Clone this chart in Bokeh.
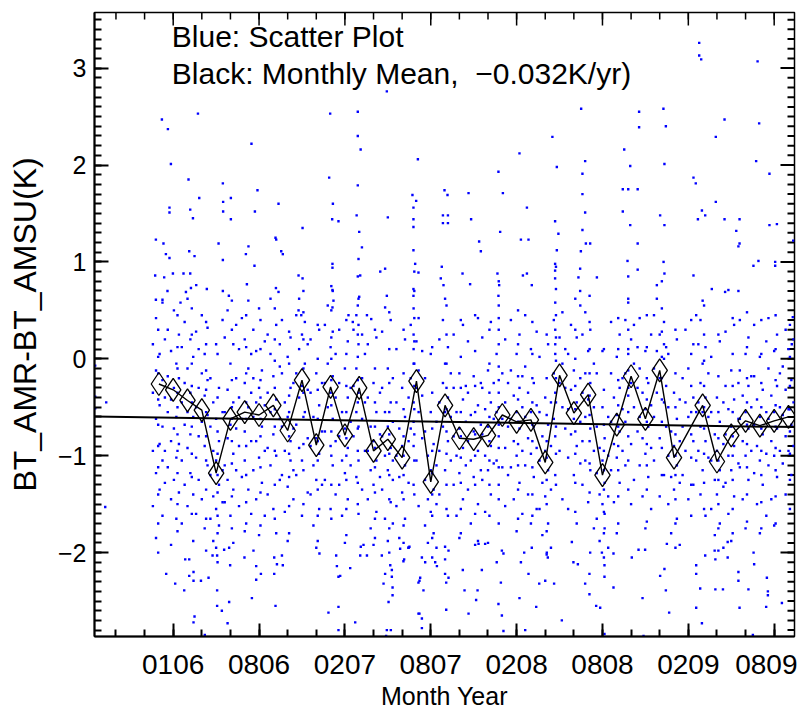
from bokeh.plotting import figure
from bokeh.models import Range1d, FixedTicker, LinearAxis, Label
from bokeh.embed import file_html
from bokeh.resources import INLINE
import numpy as np

# ---------------- data ----------------
x_tick_values = [0, 6, 12, 18, 24, 30, 36, 42]
x_tick_labels = ["0106", "0806", "0207", "0807", "0208", "0808", "0209", "0809"]
y_tick_values = [-2, -1, 0, 1, 2, 3]
y_tick_labels = ["\u22122", "\u22121", "0", "1", "2", "3"]

# monthly means (month index, K); month 36 has no mean
mean_month = [-1, 0, 1, 2, 3, 4, 5, 6, 7, 8, 9, 10, 11, 12, 13, 14, 15, 16, 17, 18,
              19, 20, 21, 22, 23, 24, 25, 26, 27, 28, 29, 30, 31, 32, 33, 34, 35,
              37, 38, 39, 40, 41, 42, 43]
mean_value = [-0.26, -0.32, -0.43, -0.53, -1.18, -0.62, -0.55, -0.58, -0.48, -0.74,
              -0.22, -0.89, -0.29, -0.79, -0.30, -0.95, -0.83, -1.02, -0.23, -1.27,
              -0.48, -0.82, -0.83, -0.79, -0.58, -0.65, -0.63, -1.07, -0.17, -0.56,
              -0.37, -1.20, -0.68, -0.18, -0.62, -0.12, -1.02,
              -0.48, -1.06, -0.79, -0.64, -0.69, -0.64, -0.60]

# linear trend of the monthly means (-0.032 K/yr)
trend_x = [-5.50, 43.42]
trend_y = [-0.595, -0.705]

# scatter: the dense band, month by month (x in months, y in K)
scatter_band = [
    (-1.42,-0.35),(-1.42,-0.95),(-1.42,0.15),(-1.42,-1.52),(-1.20,-0.62),(-1.20,0.42),(-1.20,-1.18),(-1.20,-0.12),(-1.20,-1.85),
    (-0.95,-0.48),(-0.95,-0.88),(-0.95,0.05),(-0.95,-1.35),(-0.75,-0.22),(-0.75,-0.70),(-0.75,0.58),(-0.75,-1.05),(-0.75,-1.62),
    (-0.58,-0.40),(-0.58,0.20),(-0.58,-0.95),(-0.58,-1.28),
    (-0.38,-0.55),(-0.38,0.30),(-0.38,-1.12),(-0.38,-0.18),(-0.15,-0.85),(-0.15,0.08),(-0.15,-1.45),(-0.15,-0.42),(-0.15,-1.92),
    (0.05,-0.30),(0.05,-0.72),(0.05,0.50),(0.05,-1.25),(0.22,-0.60),(0.22,-0.05),(0.22,-1.02),(0.22,-1.65),
    (0.40,-0.20),(0.40,-0.88),(0.40,0.25),(0.40,-1.38),
    (0.60,-0.45),(0.60,0.12),(0.60,-1.05),(0.60,-1.70),(0.80,-0.68),(0.80,-0.25),(0.80,0.38),(0.80,-1.30),
    (1.00,-0.92),(1.00,-0.10),(1.00,-0.55),(1.00,-1.52),(1.00,0.62),(1.20,-0.35),(1.20,-0.78),(1.20,0.20),(1.20,-1.18),
    (1.40,-0.60),(1.40,-1.40),(1.40,0.02),(1.40,-1.88),
    (1.60,-0.50),(1.60,-1.02),(1.60,0.28),(1.60,-1.60),(1.78,-0.30),(1.78,-0.80),(1.78,-1.25),(1.78,0.10),
    (2.00,-0.65),(2.00,-0.15),(2.00,-1.45),(2.00,0.45),(2.20,-0.90),(2.20,-0.38),(2.20,-1.75),(2.20,0.05),
    (2.40,-0.58),(2.40,-1.10),(2.40,0.32),(2.40,-0.22),
    (2.60,-1.20),(2.60,-0.70),(2.60,-1.65),(2.60,-0.20),(2.80,-1.42),(2.80,-0.95),(2.80,-1.88),(2.80,-0.45),
    (3.00,-1.05),(3.00,-1.55),(3.00,-0.62),(3.00,0.15),(3.00,-1.95),(3.20,-1.30),(3.20,-0.85),(3.20,-1.72),(3.20,-0.30),
    (3.45,-1.15),(3.45,-1.48),(3.45,-0.55),(3.45,0.40),
    (3.60,-0.55),(3.60,-1.10),(3.60,0.22),(3.60,-1.48),(3.80,-0.32),(3.80,-0.82),(3.80,-1.25),(3.80,0.50),
    (4.00,-0.68),(4.00,-0.05),(4.00,-1.62),(4.20,-0.45),(4.20,-0.98),(4.20,0.15),(4.20,-1.35),(4.20,-1.90),
    (4.40,-0.72),(4.40,-0.20),(4.40,-1.15),(4.40,0.35),
    (4.60,-0.40),(4.60,-0.90),(4.60,0.10),(4.60,-1.52),(4.80,-0.62),(4.80,-1.22),(4.80,0.42),
    (5.00,-0.25),(5.00,-0.75),(5.00,-1.05),(5.00,-1.78),(5.00,0.20),(5.25,-0.50),(5.25,-1.35),(5.25,-0.10),(5.25,0.60),
    (5.45,-0.85),(5.45,-0.35),(5.45,-1.60),(5.45,0.05),
    (5.60,-0.60),(5.60,-1.15),(5.60,0.30),(5.60,-0.20),(5.80,-0.85),(5.80,-1.45),(5.80,0.08),(5.80,-0.45),
    (6.00,-1.02),(6.00,-0.30),(6.00,0.52),(6.00,-1.82),(6.20,-0.70),(6.20,-1.28),(6.20,-0.12),
    (6.40,-0.48),(6.40,-0.95),(6.40,0.18),(6.40,-1.62),
    (6.60,-0.35),(6.60,-0.92),(6.60,0.25),(6.60,-1.40),(6.80,-0.55),(6.80,0.05),(6.80,-1.10),(6.80,0.62),
    (7.00,-0.78),(7.00,-0.18),(7.00,-1.55),(7.20,-0.42),(7.20,-1.00),(7.20,0.35),(7.20,-1.80),
    (7.45,-0.62),(7.45,-0.08),(7.45,-1.25),(7.45,0.15),
    (7.60,-0.70),(7.60,-1.20),(7.60,-0.15),(7.60,0.40),(7.80,-0.95),(7.80,-0.45),(7.80,-1.58),
    (8.00,-0.60),(8.00,-1.32),(8.00,0.02),(8.00,-1.88),(8.20,-0.85),(8.20,-0.30),(8.20,-1.05),(8.20,0.22),
    (8.40,-0.72),(8.40,-1.45),(8.40,-0.25),(8.40,-1.15),
    (8.60,-0.15),(8.60,-0.68),(8.60,0.45),(8.60,-1.20),(8.80,0.10),(8.80,-0.40),(8.80,0.62),(8.80,-0.92),
    (9.00,-0.28),(9.00,0.25),(9.00,-1.05),(9.00,-1.62),(9.20,-0.05),(9.20,-0.55),(9.20,0.38),
    (9.40,-0.32),(9.40,0.15),(9.40,-0.82),(9.40,-1.38),
    (9.60,-0.90),(9.60,-1.40),(9.60,-0.35),(9.60,0.20),(9.80,-1.10),(9.80,-0.60),(9.80,-1.72),
    (10.00,-0.82),(10.00,-1.25),(10.00,-0.15),(10.00,-1.95),(10.20,-0.98),(10.20,-0.48),(10.20,-1.55),(10.20,0.30),
    (10.40,-0.75),(10.40,-1.30),(10.40,-0.25),
    (10.60,-0.25),(10.60,-0.75),(10.60,0.35),(10.60,-1.25),(10.80,-0.05),(10.80,-0.50),(10.80,0.55),
    (11.00,-0.35),(11.00,0.12),(11.00,-0.90),(11.00,-1.55),(11.15,-0.18),(11.15,0.28),(11.15,-0.62),(11.15,-1.10),(11.15,0.70),
    (11.35,-0.40),(11.35,0.05),(11.35,-0.85),(11.35,-1.40),
    (11.60,-0.80),(11.60,-1.30),(11.60,-0.25),(11.60,0.30),(11.80,-1.05),(11.80,-0.55),(11.80,-1.62),
    (12.00,-0.72),(12.00,-1.18),(12.00,-0.10),(12.00,-1.90),(12.20,-0.92),(12.20,-0.40),(12.20,-1.45),(12.20,0.18),
    (12.40,-0.65),(12.40,-1.10),(12.40,-0.30),
    (12.60,-0.28),(12.60,-0.80),(12.60,0.30),(12.80,-0.10),(12.80,-0.55),(12.80,0.45),(12.80,-1.22),
    (12.95,-0.35),(12.95,0.15),(12.95,-0.70),(12.95,0.62),(12.95,-1.05),(12.95,-1.60),(12.95,0.35),
    (13.20,-0.20),(13.20,-0.62),(13.20,0.25),(13.20,-1.35),(13.40,-0.45),(13.40,0.05),(13.40,-0.95),
    (13.60,-0.95),(13.60,-1.45),(13.60,-0.40),(13.60,0.15),(13.80,-1.15),(13.80,-0.70),(13.80,-1.75),
    (14.00,-0.85),(14.00,-1.30),(14.00,-0.25),(14.00,-1.92),(14.20,-1.05),(14.20,-0.55),(14.20,-1.58),(14.20,0.22),
    (14.45,-0.78),(14.45,-1.22),(14.45,-0.35),
    (14.60,-0.80),(14.60,-1.35),(14.60,-0.30),(14.60,0.28),(14.80,-1.00),(14.80,-0.55),(14.80,-1.65),
    (15.00,-0.70),(15.00,-1.15),(15.00,-0.10),(15.00,-1.88),(15.20,-0.92),(15.20,-0.45),(15.20,-1.48),(15.20,0.40),
    (15.35,-0.65),(15.35,-1.25),(15.35,-0.20),(15.35,-1.05),(15.35,-1.70),
    (15.60,-1.00),(15.60,-1.52),(15.60,-0.45),(15.60,0.10),(15.80,-1.22),(15.80,-0.72),(15.80,-1.85),
    (16.00,-0.90),(16.00,-1.38),(16.00,-0.30),(16.20,-1.10),(16.20,-0.60),(16.20,-1.65),(16.20,0.20),
    (16.45,-0.85),(16.45,-1.28),(16.45,-0.40),(16.45,-1.95),
    (16.60,-0.20),(16.60,-0.72),(16.60,0.35),(16.80,-0.05),(16.80,-0.45),(16.80,0.25),(16.80,0.52),(16.80,-0.90),
    (16.80,-1.30),(16.80,0.10),(16.80,-0.65),(17.00,-0.30),(17.00,0.18),(17.00,-1.05),
    (17.15,-0.12),(17.15,-0.55),(17.15,0.42),(17.15,-1.52),(17.40,-0.38),(17.40,0.08),(17.40,-0.82),
    (17.60,-1.25),(17.60,-1.72),(17.60,-0.75),(17.60,-0.20),(17.80,-1.45),(17.80,-1.00),(17.80,-1.90),
    (18.00,-1.15),(18.00,-1.58),(18.00,-0.55),(18.00,0.05),(18.20,-1.35),(18.20,-0.88),(18.20,-1.80),
    (18.40,-1.10),(18.40,-1.50),(18.40,-0.65),(18.40,-1.95),
    (18.60,-0.45),(18.60,-0.95),(18.60,0.20),(18.60,-1.40),(18.85,-0.25),(18.85,-0.70),(18.85,0.40),
    (19.00,-0.55),(19.00,-0.05),(19.00,-1.15),(19.00,0.62),(19.20,-0.40),(19.20,-0.85),(19.20,0.12),(19.20,-1.62),
    (19.40,-0.60),(19.40,-0.15),(19.40,-1.05),
    (19.60,-0.80),(19.60,-1.30),(19.60,-0.30),(19.60,0.25),(19.80,-1.00),(19.80,-0.55),(19.80,-1.62),
    (20.00,-0.72),(20.00,-1.18),(20.00,-0.15),(20.00,-1.85),(20.25,-0.92),(20.25,-0.42),(20.25,-1.45),(20.25,0.35),
    (20.45,-0.65),(20.45,-1.10),(20.45,-0.28),
    (20.60,-0.85),(20.60,-1.35),(20.60,-0.35),(20.60,0.18),(20.80,-1.05),(20.80,-0.58),(20.80,-1.70),
    (21.00,-0.75),(21.00,-1.22),(21.00,-0.18),(21.30,-0.95),(21.30,-0.48),(21.30,-1.50),(21.30,0.42),(21.30,-1.88),
    (21.50,-0.68),(21.50,-1.15),(21.50,-0.25),
    (21.60,-0.78),(21.60,-1.25),(21.60,-0.30),(21.60,0.22),(21.80,-1.00),(21.80,-0.52),(21.80,-1.58),
    (22.00,-0.70),(22.00,-1.15),(22.00,-0.12),(22.00,-1.90),(22.20,-0.90),(22.20,-0.45),(22.20,-1.40),(22.20,0.38),
    (22.40,-0.62),(22.40,-1.08),(22.40,-0.25),
    (22.60,-0.55),(22.60,-1.05),(22.60,0.05),(22.75,-0.35),(22.75,-0.80),(22.75,0.30),(22.75,-1.30),(22.75,-1.70),(22.75,0.55),
    (23.00,-0.62),(23.00,-0.15),(23.00,-1.12),(23.20,-0.45),(23.20,-0.92),(23.20,0.20),(23.20,-1.52),
    (23.40,-0.70),(23.40,-0.25),(23.40,-1.20),
    (23.60,-0.62),(23.60,-1.12),(23.60,-0.12),(23.60,0.40),(23.80,-0.85),(23.80,-0.38),(23.80,-1.45),
    (24.00,-0.55),(24.00,-1.00),(24.00,0.05),(24.00,-1.78),(24.20,-0.72),(24.20,-0.30),(24.20,-1.28),(24.20,0.25),
    (24.40,-0.50),(24.40,-0.95),(24.40,-0.18),(24.40,-1.60),
    (24.60,-0.60),(24.60,-1.10),(24.60,-0.08),(24.60,0.45),(24.80,-0.82),(24.80,-0.35),(24.80,-1.40),
    (25.00,-0.55),(25.00,-0.98),(25.00,0.10),(25.00,-1.70),(25.20,-0.70),(25.20,-0.25),(25.20,-1.22),
    (25.40,-0.48),(25.40,-0.92),(25.40,0.28),(25.40,-1.55),
    (25.60,-1.05),(25.60,-1.55),(25.60,-0.55),(25.60,0.02),(25.80,-1.28),(25.80,-0.80),(25.80,-1.82),
    (26.00,-0.95),(26.00,-1.42),(26.00,-0.40),(26.20,-1.15),(26.20,-0.68),(26.20,-1.70),(26.20,0.15),
    (26.40,-0.90),(26.40,-1.35),(26.40,-0.45),(26.40,-1.95),
    (26.60,-0.15),(26.60,-0.62),(26.60,0.40),(26.70,0.05),(26.70,-0.35),(26.70,0.30),(26.70,0.58),(26.70,-0.80),
    (26.70,-1.20),(26.70,0.15),(27.00,-0.25),(27.00,0.22),(27.00,-0.95),
    (27.20,-0.05),(27.20,-0.50),(27.20,0.48),(27.20,-1.45),(27.40,-0.30),(27.40,0.10),(27.40,-0.72),
    (27.60,-0.52),(27.60,-1.02),(27.60,0.05),(27.60,-1.55),(27.80,-0.32),(27.80,-0.78),(27.80,0.35),
    (28.00,-0.62),(28.00,-0.12),(28.00,-1.20),(28.20,-0.45),(28.20,-0.90),(28.20,0.22),(28.20,-1.70),
    (28.45,-0.65),(28.45,-0.20),(28.45,-1.08),(28.45,0.55),
    (28.60,-0.35),(28.60,-0.85),(28.60,0.25),(28.60,-1.30),(28.80,-0.15),(28.80,-0.60),(28.80,0.48),(28.80,-1.05),
    (29.00,-0.42),(29.00,0.08),(29.00,-1.48),(29.15,-0.25),(29.15,-0.72),(29.15,0.30),(29.15,-1.15),
    (29.40,-0.50),(29.40,-0.05),(29.40,-0.95),(29.40,-1.75),
    (29.60,-1.18),(29.60,-1.65),(29.60,-0.70),(29.60,-0.15),(29.80,-1.40),(29.80,-0.92),(29.80,-1.88),
    (30.00,-1.05),(30.00,-1.50),(30.00,-0.50),(30.00,0.08),(30.15,-1.28),(30.15,-0.82),(30.15,-1.75),(30.15,-1.60),
    (30.40,-1.00),(30.40,-1.42),(30.40,-0.60),(30.40,-1.95),
    (30.60,-0.65),(30.60,-1.15),(30.60,-0.15),(30.60,0.38),(30.80,-0.88),(30.80,-0.40),(30.80,-1.48),
    (31.00,-0.58),(31.00,-1.02),(31.00,0.02),(31.00,-1.80),(31.20,-0.75),(31.20,-0.30),(31.20,-1.28),(31.20,0.25),
    (31.40,-0.52),(31.40,-0.95),(31.40,-0.20),
    (31.60,-0.15),(31.60,-0.65),(31.60,0.40),(31.60,-1.10),(31.80,0.05),(31.80,-0.38),(31.80,0.58),
    (32.00,-0.25),(32.00,0.20),(32.00,-0.88),(32.00,-1.50),(32.20,-0.05),(32.20,-0.50),(32.20,0.35),(32.20,-1.25),
    (32.45,-0.30),(32.45,0.12),(32.45,-0.75),
    (32.60,-0.60),(32.60,-1.10),(32.60,-0.10),(32.60,0.42),(32.80,-0.82),(32.80,-0.35),(32.80,-1.42),
    (33.00,-0.52),(33.00,-0.98),(33.00,0.08),(33.00,-1.75),(33.20,-0.70),(33.20,-0.25),(33.20,-1.22),
    (33.40,-0.48),(33.40,-0.92),(33.40,0.25),(33.40,-1.55),
    (33.60,-0.10),(33.60,-0.60),(33.60,0.45),(33.60,-1.05),(33.80,0.08),(33.80,-0.35),(33.80,0.62),
    (34.00,-0.20),(34.00,0.25),(34.00,-0.82),(34.00,-1.42),(34.30,0.00),(34.30,-0.45),(34.30,0.38),(34.30,-1.20),(34.30,0.15),
    (34.45,-0.28),(34.45,0.12),(34.45,-0.70),
    (34.60,-1.00),(34.60,-1.50),(34.60,-0.50),(34.60,0.05),(34.80,-1.22),(34.80,-0.75),(34.80,-1.80),
    (35.00,-0.90),(35.00,-1.35),(35.00,-0.35),(35.20,-1.10),(35.20,-0.62),(35.20,-1.65),(35.20,0.20),
    (35.40,-0.85),(35.40,-1.28),(35.40,-0.42),(35.40,-1.92),
    (35.60,-0.70),(35.60,-1.20),(35.60,-0.20),(35.80,-0.95),(35.80,-0.45),(35.80,0.30),
    (36.00,-0.60),(36.00,-1.45),(36.00,-0.10),(36.35,-0.40),(36.35,-0.85),(36.35,0.15),(36.35,-1.30),
    (36.55,-0.55),(36.55,-1.05),(36.55,0.45),
    (36.70,-0.45),(36.70,-0.95),(36.70,0.15),(36.85,-0.25),(36.85,-0.70),(36.85,0.40),(36.85,-1.40),
    (37.00,-0.55),(37.00,-0.05),(37.00,-1.15),(37.00,0.60),(37.20,-0.40),(37.20,-0.85),(37.20,0.12),(37.20,-1.62),
    (37.40,-0.60),(37.40,-0.15),(37.40,-1.02),
    (37.60,-1.05),(37.60,-1.55),(37.60,-0.55),(37.60,0.02),(37.85,-1.25),(37.85,-0.78),(37.85,-1.82),
    (38.00,-0.95),(38.00,-1.40),(38.00,-0.40),(38.20,-1.15),(38.20,-0.65),(38.20,-1.70),(38.20,0.18),
    (38.45,-0.88),(38.45,-1.32),(38.45,-0.45),(38.45,-1.95),
    (38.60,-0.78),(38.60,-1.28),(38.60,-0.28),(38.60,0.28),(38.80,-1.00),(38.80,-0.52),(38.80,-1.60),
    (39.00,-0.70),(39.00,-1.15),(39.00,-0.12),(39.00,-1.88),(39.20,-0.90),(39.20,-0.42),(39.20,-1.42),(39.20,0.35),
    (39.50,-0.62),(39.50,-1.08),(39.50,-0.25),
    (39.60,-0.62),(39.60,-1.12),(39.60,-0.12),(39.60,0.40),(39.80,-0.85),(39.80,-0.38),(39.80,-1.45),
    (40.00,-0.55),(40.00,-1.00),(40.00,0.05),(40.00,-1.75),(40.20,-0.72),(40.20,-0.28),(40.20,-1.25),(40.20,0.22),
    (40.40,-0.50),(40.40,-0.95),(40.40,-0.18),
    (40.60,-0.68),(40.60,-1.18),(40.60,-0.18),(40.60,0.35),(40.80,-0.90),(40.80,-0.42),(40.80,-1.50),
    (41.00,-0.60),(41.00,-1.05),(41.00,0.02),(41.00,-1.80),(41.20,-0.78),(41.20,-0.32),(41.20,-1.30),
    (41.45,-0.55),(41.45,-0.98),(41.45,0.18),(41.45,-1.62),
    (41.60,-0.62),(41.60,-1.10),(41.60,-0.10),(41.60,0.42),(41.80,-0.85),(41.80,-0.38),(41.80,-1.45),
    (42.00,-0.55),(42.00,-1.00),(42.00,0.08),(42.00,-1.72),(42.20,-0.72),(42.20,-0.28),(42.20,-1.22),(42.20,0.25),
    (42.40,-0.50),(42.40,-0.95),(42.40,-0.15),
    (42.60,-0.58),(42.60,-1.08),(42.60,-0.08),(42.80,-0.80),(42.80,-0.32),(42.80,-1.40),(42.80,0.30),
    (43.00,-0.52),(43.00,-0.95),(43.00,0.10),(43.20,-0.68),(43.20,-0.22),(43.20,-1.20),
    (43.35,-0.45),(43.35,-0.90),(43.35,0.20),
]

# scatter: dense vertical stripes (one observation day per month), x -> list of y
scatter_stripes = {
    -1.05: [0.30,0.02,-0.15,-0.42,-0.68,-0.90,-1.12,-1.40,-1.70,-2.00],
    0.30: [0.45,0.12,-0.10,-0.35,-0.50,-0.78,-0.95,-1.18,-1.50,-1.78],
    1.30: [0.52,0.25,-0.05,-0.28,-0.45,-0.70,-0.98,-1.22,-1.60],
    2.30: [0.38,0.15,-0.12,-0.32,-0.55,-0.80,-1.05,-1.35,-1.65,-1.98],
    3.10: [0.05,-0.40,-0.75,-0.98,-1.20,-1.38,-1.62,-1.80,-2.10],
    4.10: [0.60,0.30,-0.22,-0.50,-0.62,-0.85,-1.08,-1.42,-1.75],
    5.10: [0.45,0.12,-0.15,-0.45,-0.62,-0.90,-1.20,-1.48,-1.70],
    6.10: [0.40,0.10,-0.22,-0.40,-0.62,-0.80,-1.12,-1.38,-1.72],
    7.10: [0.52,0.20,-0.02,-0.30,-0.52,-0.70,-0.95,-1.30,-1.65],
    8.10: [0.28,-0.05,-0.38,-0.55,-0.80,-0.98,-1.22,-1.52,-1.80],
    9.10: [0.70,0.48,0.20,-0.10,-0.35,-0.60,-0.88,-1.15,-1.50],
    10.10: [0.35,0.00,-0.32,-0.62,-0.85,-1.05,-1.35,-1.62,-1.88],
    11.05: [0.75,0.50,0.22,0.00,-0.22,-0.48,-0.75,-1.00,-1.30,-1.65],
    12.10: [0.40,0.05,-0.28,-0.55,-0.82,-1.00,-1.25,-1.55,-1.82],
    12.90: [0.85,0.55,0.25,0.02,-0.22,-0.45,-0.72,-0.95,-1.28,-1.50],
    14.10: [0.30,-0.10,-0.45,-0.70,-0.92,-1.12,-1.38,-1.65,-1.85],
    15.10: [0.48,0.10,-0.25,-0.55,-0.78,-0.98,-1.20,-1.45,-1.75,-2.00],
    16.10: [0.30,-0.15,-0.52,-0.80,-1.00,-1.20,-1.45,-1.72,-1.90],
    16.85: [0.90,0.70,0.42,0.18,-0.05,-0.28,-0.52,-0.78,-1.05,-1.40],
    18.10: [0.12,-0.35,-0.72,-0.95,-1.18,-1.40,-1.62,-1.85,-2.05],
    19.10: [0.55,0.25,-0.05,-0.30,-0.52,-0.75,-0.98,-1.30,-1.55],
    20.10: [0.40,0.02,-0.30,-0.55,-0.80,-1.02,-1.28,-1.55,-1.80],
    21.10: [0.45,0.08,-0.28,-0.55,-0.78,-1.00,-1.30,-1.60,-1.92],
    22.10: [0.30,-0.05,-0.35,-0.60,-0.85,-1.05,-1.30,-1.62],
    22.75: [0.80,0.42,0.15,-0.08,-0.22,-0.50,-0.68,-0.92,-1.12,-1.45],
    24.10: [0.50,0.15,-0.18,-0.42,-0.65,-0.88,-1.10,-1.35,-1.65],
    25.10: [0.38,0.05,-0.20,-0.45,-0.68,-0.85,-1.12,-1.40,-1.62],
    26.10: [0.25,-0.20,-0.58,-0.85,-1.02,-1.25,-1.50,-1.78,-2.02],
    26.75: [0.95,0.72,0.45,0.22,-0.02,-0.20,-0.45,-0.70,-0.98,-1.30],
    28.10: [0.62,0.30,0.00,-0.28,-0.52,-0.75,-0.98,-1.28,-1.58],
    29.10: [0.65,0.38,0.10,-0.15,-0.38,-0.58,-0.85,-1.08,-1.38],
    30.10: [0.10,-0.32,-0.68,-0.95,-1.15,-1.35,-1.58,-1.80,-2.05],
    31.10: [0.42,0.10,-0.22,-0.48,-0.70,-0.90,-1.15,-1.42,-1.70],
    31.80: [0.85,0.62,0.30,0.10,-0.12,-0.30,-0.55,-0.80,-1.05,-1.35],
    33.10: [0.45,0.12,-0.20,-0.42,-0.65,-0.88,-1.10,-1.35,-1.68],
    34.15: [0.80,0.52,0.28,0.02,-0.20,-0.42,-0.65,-0.92,-1.20],
    35.10: [0.30,-0.15,-0.50,-0.78,-1.00,-1.20,-1.45,-1.70,-1.95],
    36.20: [0.40,0.05,-0.28,-0.55,-0.78,-1.02,-1.30,-1.62],
    37.10: [0.55,0.25,-0.02,-0.28,-0.50,-0.72,-0.98,-1.28,-1.55],
    38.10: [0.25,-0.18,-0.55,-0.82,-1.05,-1.25,-1.50,-1.75,-1.98],
    39.10: [0.42,0.05,-0.28,-0.55,-0.80,-1.00,-1.25,-1.55,-1.80],
    40.10: [0.48,0.12,-0.20,-0.45,-0.68,-0.88,-1.12,-1.40,-1.68],
    41.10: [0.40,0.05,-0.25,-0.50,-0.72,-0.95,-1.20,-1.48,-1.75],
    42.10: [0.45,0.10,-0.22,-0.48,-0.70,-0.92,-1.15,-1.42,-1.70],
    43.10: [0.35,0.02,-0.28,-0.52,-0.75,-0.98,-1.25,-1.55],
}

# scatter: upper tail
scatter_high = [
    (-0.79,2.47),(-0.37,2.37),(1.73,2.53),(-0.16,2.01),(1.07,1.85),(3.47,1.81),(5.47,2.22),(10.97,2.53),
    (12.9,2.55),(12.9,2.30),(13.1,2.16),(12.9,1.79),(10.9,1.87),(14.93,2.76),
    (-0.26,1.56),(-0.26,1.51),(1.82,1.66),(1.19,1.54),(1.38,1.45),(3.49,1.62),(3.49,1.52),(4.03,1.66),(4.03,1.44),
    (5.89,1.74),(5.71,1.52),(7.36,1.60),(9.04,1.35),(11.16,1.60),(11.11,1.44),(11.55,1.42),(12.82,1.48),(13.0,1.31),(15.0,1.46),
    (-1.21,1.23),(-0.68,1.19),(-0.51,1.08),(-0.26,1.04),(1.12,1.11),(1.49,1.06),(3.17,1.19),(3.47,1.02),(5.26,1.16),
    (5.08,1.08),(5.68,0.96),(7.15,1.25),(7.2,1.23),(7.55,1.11),(7.66,1.08),(8.76,0.86),(9.04,0.83),(11.13,0.98),
    (11.13,0.94),(13.07,0.86),(13.19,1.15),(12.95,1.03),(14.47,0.90),(14.81,0.93),
    (-1.26,0.86),(-0.63,0.84),(-0.02,0.88),(0.72,0.88),(1.19,0.88),
    (-1.21,0.61),(-0.75,0.61),(-0.40,0.70),(0.51,0.58),(0.89,0.69),(1.24,0.73),(1.61,0.76),(2.35,0.72),(3.47,0.70),(3.89,0.65),
    (5.15,0.77),(7.18,0.73),(7.36,0.69),(8.76,0.50),(8.95,0.45),(11.13,0.71),(11.2,0.60),(11.13,0.53),(13.0,0.64),
    (13.54,0.45),(13.84,0.41),(14.93,0.65),(14.81,0.53),(12.25,0.45),(12.55,0.38),
    (36.76,3.26),(36.76,3.13),(36.9,3.09),(40.84,3.07),(28.51,2.58),(32.56,2.55),(32.56,2.39),(34.26,2.58),(34.43,2.40),
    (38.53,2.47),(37.92,2.29),(40.95,2.43),(26.5,2.29),(24.2,2.12),(31.52,2.16),(31.94,1.99),(34.33,2.01),(40.74,2.04),
    (41.67,1.91),(36.36,1.87),(36.52,1.81),(28.79,2.04),(28.6,1.91),(28.6,1.70),(26.81,1.98),(17.1,2.06),(22.73,1.93),
    (31.42,1.75),(31.8,1.75),(32.46,1.75),(20.64,1.71),(23.04,1.71),(16.72,1.69),(16.98,1.63),(16.79,1.56),(16.79,1.44),
    (16.79,1.36),(18.96,1.74),(19.17,1.69),(24.72,1.56),(28.79,1.51),(28.6,1.33),(31.42,1.52),(31.94,1.38),(34.03,1.48),
    (34.33,1.38),(36.67,1.44),(36.95,1.53),(37.18,1.48),(37.92,1.62),(38.53,1.44),(39.58,1.44),(39.35,1.32),(39.58,1.19),
    (39.5,1.16),(41.67,1.38),(42.19,1.39),(18.85,1.48),(19.2,1.48),(18.85,1.40),(19.2,1.40),(20.82,1.44),(22.85,1.31),
    (21.38,1.21),(21.5,1.11),(24.3,1.23),(24.83,1.23),(26.69,1.42),(26.92,1.29),(28.84,1.19),(29.14,1.19),(28.49,1.11),
    (32.46,1.19),(37.64,0.72),(38.57,0.69),(38.8,0.71),(39.5,0.70),(40.55,0.96),(40.9,1.01),(42.07,1.0),(42.07,0.96),
    (36.36,0.86),(31.75,1.01),(32.46,0.92),(33.8,0.76),(34.27,1.0),(34.33,0.88),(29.61,0.84),(28.44,0.93),(28.32,0.84),
    (28.44,0.70),(26.81,1.12),(26.69,0.98),(26.69,0.91),(26.69,0.83),(25.06,0.76),(24.44,0.86),(24.72,0.88),(22.66,0.88),
    (22.78,0.76),(22.73,0.65),(20.22,0.88),(20.75,0.77),(18.77,0.95),(18.89,0.76),(18.7,0.83),(16.79,1.12),(16.91,0.98),
    (17.14,0.89),(16.79,0.72),(16.79,0.65),
]

# scatter: lower tail
scatter_low = [
    (-0.49,-2.22),(0.14,-2.32),(0.77,-2.39),(0.84,-2.07),(1.12,-2.07),(1.12,-2.24),(1.42,-2.20),(1.42,-2.29),(1.94,-2.29),
    (2.47,-2.26),(1.49,-2.66),(1.42,-2.72),(2.21,-2.85),(3.07,-2.39),(3.07,-2.55),(3.40,-2.60),(3.8,-2.73),(3.91,-2.51),
    (2.75,-2.03),(3.07,-2.03),(3.56,-1.97),(3.91,-1.95),(3.98,-2.13),(4.98,-2.05),(5.5,-2.47),(5.61,-1.98),(5.8,-2.14),
    (5.8,-2.28),(6.13,-2.22),(7.06,-2.22),(7.15,-2.55),(7.25,-2.12),(7.66,-2.13),(7.06,-2.05),(7.6,-2.03),(10.22,-2.01),
    (10.85,-2.62),(11.55,-2.56),(11.44,-2.14),(11.39,-2.03),(11.55,-2.25),(11.67,-2.24),(11.55,-2.80),(12.72,-2.72),
    (12.37,-2.16),(13.07,-2.03),(13.54,-2.03),(13.11,-1.94),(13.3,-1.92),(14.58,-2.03),(14.7,-2.32),(14.81,-2.22),
    (15.05,-2.51),(15.17,-2.13),(15.28,-2.18),(15.28,-2.25),(15.33,-2.36),(15.33,-2.44),(14.93,-2.80),(15.21,-2.80),
    (14.88,-2.86),(15.86,-1.96),(16.51,-1.94),(16.09,-2.09),(17.21,-2.29),(17.21,-2.63),
    (16.14,-2.07),(16.44,-1.95),(17.38,-2.05),(17.61,-2.10),(17.14,-2.31),(17.26,-2.26),(17.49,-2.39),(17.14,-2.63),
    (17.38,-2.68),(17.38,-2.78),(18.31,-2.10),(18.43,-2.14),(19.0,-1.94),(19.24,-1.98),(19.0,-2.07),(19.0,-2.22),
    (19.24,-2.26),(19.08,-2.31),(19.08,-2.59),(20.24,-2.18),(20.36,-2.39),(20.64,-2.63),(21.17,-2.49),(21.27,-2.39),
    (21.34,-1.91),(21.57,-2.18),(21.8,-1.91),(22.61,-2.10),(22.73,-2.53),(22.9,-2.31),(22.97,-2.65),(22.97,-1.98),
    (23.08,-2.01),(23.08,-2.81),(24.2,-2.47),(24.3,-2.10),(24.53,-2.00),(24.83,-2.22),(25.06,-1.95),(25.37,-2.56),
    (24.6,-2.80),(26.11,-2.00),(26.18,-2.05),(25.58,-2.32),(26.0,-2.29),(26.62,-2.32),(27.16,-2.70),(27.86,-1.89),
    (27.97,-2.10),(28.28,-2.12),(28.79,-2.32),(29.09,-2.22),(29.09,-2.43),(29.56,-2.55),(29.84,-2.57),(29.14,-2.00),
    (29.96,-2.00),(30.14,-2.13),(30.14,-2.25),(30.77,-2.01),(30.77,-2.36),(30.14,-2.84),(32.05,-2.05),(32.52,-1.97),
    (32.98,-1.97),(32.8,-2.47),(32.87,-2.86),(34.03,-2.24),(34.33,-2.17),(34.43,-2.39),(34.66,-2.62),(34.5,-1.91),
    (36.55,-2.13),(36.55,-2.22),(36.55,-2.57),(36.83,-2.37),(36.95,-2.73),(37.18,-2.03),(37.84,-1.98),(37.89,-2.07),
    (37.89,-2.38),(38.42,-2.38),(38.75,-2.05),(38.75,-1.89),(39.5,-2.20),(39.5,-2.29),(39.58,-2.57),(40.2,-2.38),
    (40.56,-2.00),(40.6,-2.12),(41.49,-2.26),(41.56,-2.40),(41.56,-2.44),(41.44,-2.56),(42.54,-2.52),(40.51,-2.85),
]

# scatter: isolated points near the frame edges
scatter_edge = [(-5.45,-0.07),(-5.45,-0.39),(-5.45,-0.51),(-4.68,-0.45),(-4.75,-1.53),
                (43.33,1.22),(43.30,0.43),(43.23,0.15)]

# ---------------- figure ----------------
FONT = "Liberation Sans"
X0, X1 = -5.50, 43.42
Y0, Y1 = -2.866, 3.574
FW, FH = 700, 624

p = figure(width=797, height=719, output_backend="svg", toolbar_location=None,
           x_range=Range1d(X0, X1), y_range=Range1d(Y0, Y1),
           x_axis_type=None, y_axis_type=None,
           min_border_left=94, min_border_right=3, min_border_top=12, min_border_bottom=83)
p.outline_line_color = "black"
p.outline_line_width = 1.5
p.background_fill_color = "white"
p.border_fill_color = "white"

x_minor = list(range(-4, 44, 2))
y_minor = [round(v, 1) for v in np.arange(-2.8, 3.55, 0.1)]
xticker = FixedTicker(ticks=x_tick_values, minor_ticks=x_minor)
yticker = FixedTicker(ticks=y_tick_values, minor_ticks=y_minor)


def style_axis(ax, major_in, minor_in, lw=2):
    ax.major_tick_in = major_in
    ax.major_tick_out = 0
    ax.minor_tick_in = minor_in
    ax.minor_tick_out = 0
    ax.axis_line_width = lw
    ax.major_tick_line_width = lw
    ax.minor_tick_line_width = lw
    ax.axis_line_color = "black"
    ax.major_tick_line_color = "black"
    ax.minor_tick_line_color = "black"


xb = LinearAxis(ticker=xticker)
style_axis(xb, 13, 7)
xb.major_label_overrides = dict(zip(x_tick_values, x_tick_labels))
xb.major_label_text_font = FONT
xb.major_label_text_font_size = "28px"
xb.major_label_text_color = "black"
xb.major_label_standoff = 18
xb.axis_label = "Month Year"
xb.axis_label_text_font = FONT
xb.axis_label_text_font_size = "25px"
xb.axis_label_text_font_style = "normal"
xb.axis_label_text_color = "black"
xb.axis_label_standoff = 5
p.add_layout(xb, "below")

yl = LinearAxis(ticker=yticker)
style_axis(yl, 14, 7)
yl.major_label_overrides = dict(zip(y_tick_values, y_tick_labels))
yl.major_label_text_font = FONT
yl.major_label_text_font_size = "25px"
yl.major_label_text_color = "black"
yl.major_label_standoff = 8
yl.axis_label = "BT_AMR-BT_AMSU(K)"
yl.axis_label_text_font = FONT
yl.axis_label_text_font_size = "32px"
yl.axis_label_text_font_style = "normal"
yl.axis_label_text_color = "black"
yl.axis_label_standoff = 12
p.add_layout(yl, "left")

# inward ticks on the top and right edges of the box (lengths in screen px)
px_per_y = FH / (Y1 - Y0)
px_per_x = FW / (X1 - X0)
top_major_len, top_minor_len = 13 / px_per_y, 7 / px_per_y
right_major_len, right_minor_len = 14 / px_per_x, 7 / px_per_x
p.segment(x0=x_tick_values, y0=[Y1] * len(x_tick_values), x1=x_tick_values,
          y1=[Y1 - top_major_len] * len(x_tick_values), line_color="black", line_width=1.5)
p.segment(x0=x_minor, y0=[Y1] * len(x_minor), x1=x_minor,
          y1=[Y1 - top_minor_len] * len(x_minor), line_color="black", line_width=1.5)
p.segment(x0=[X1] * len(y_tick_values), y0=y_tick_values, x1=[X1 - right_major_len] * len(y_tick_values),
          y1=y_tick_values, line_color="black", line_width=2)
p.segment(x0=[X1] * len(y_minor), y0=y_minor, x1=[X1 - right_minor_len] * len(y_minor),
          y1=y_minor, line_color="black", line_width=2)

# scatter
all_pts = scatter_band + scatter_high + scatter_low + scatter_edge
for sxv, ys in scatter_stripes.items():
    all_pts = all_pts + [(sxv, yv) for yv in ys]
sx = [pt[0] for pt in all_pts]
sy = [pt[1] for pt in all_pts]
p.scatter(sx, sy, marker="square", size=2.4, fill_color="#0000ff", line_color=None)

# trend line
p.line(trend_x, trend_y, line_color="black", line_width=2)

# monthly means
p.line(mean_month, mean_value, line_color="black", line_width=1.4)
p.scatter(mean_month, mean_value, marker="diamond", size=23, fill_color=None,
          line_color="black", line_width=1.3)

# annotation text
p.add_layout(Label(x=-0.1, y=3.33, text="Blue: Scatter Plot", text_font=FONT,
                   text_font_size="30px", text_color="black", text_baseline="alphabetic",
                   text_align="left"))
p.add_layout(Label(x=-0.1, y=2.94, text="Black: Monthly Mean,\u00a0 \u22120.032K/yr)", text_font=FONT,
                   text_font_size="30px", text_color="black", text_baseline="alphabetic",
                   text_align="left"))

open("out.html", "w").write(file_html(p, INLINE))
